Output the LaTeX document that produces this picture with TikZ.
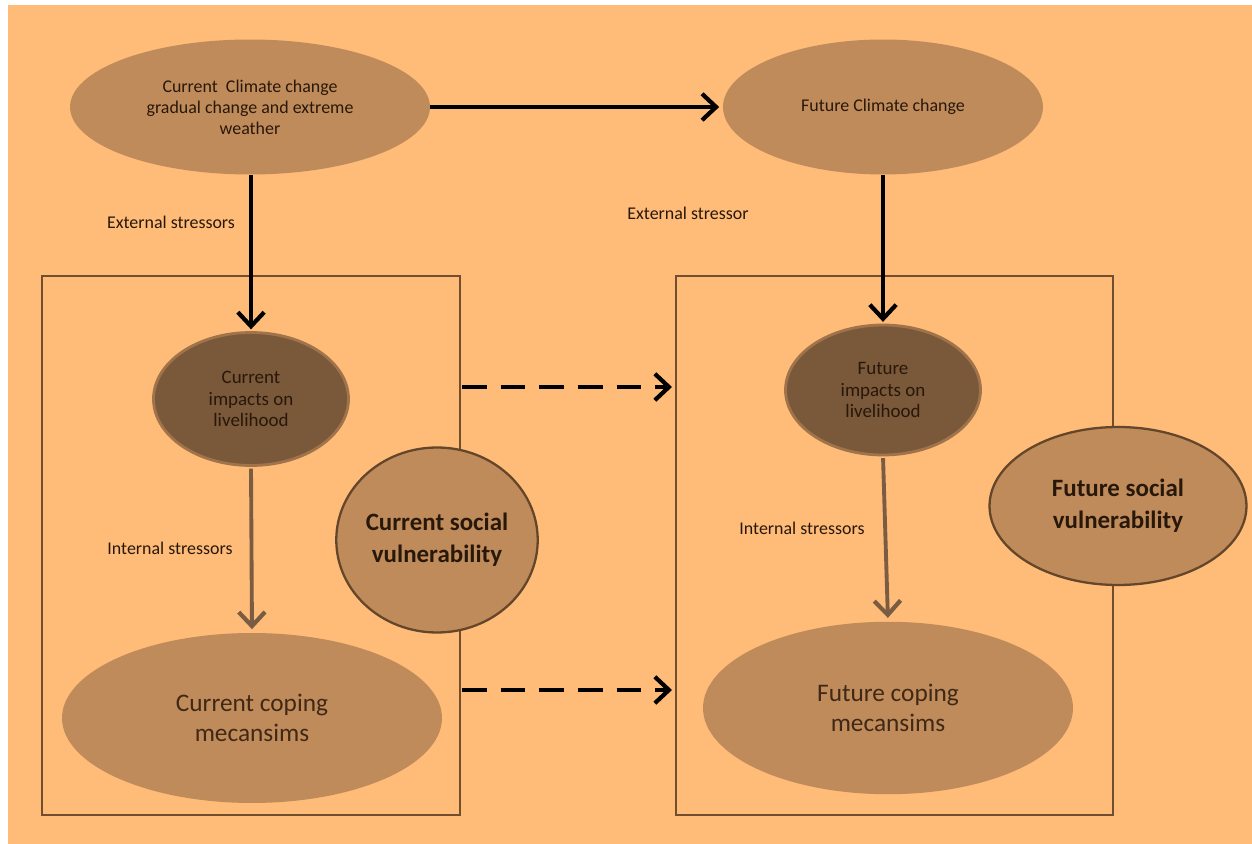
\documentclass[tikz,border=0pt]{standalone}
\usepackage{fontspec}
\setmainfont{Carlito}
\usetikzlibrary{shapes.geometric,arrows.meta}
\definecolor{bgor}{RGB}{255,187,120}
\definecolor{elfill}{RGB}{192,139,91}
\definecolor{darkfill}{RGB}{122,88,58}
\definecolor{darkedge}{RGB}{160,115,75}
\definecolor{boxedge}{RGB}{112,78,46}
\definecolor{svedge}{RGB}{100,70,42}
\definecolor{intarrow}{RGB}{122,92,66}
\definecolor{txt}{RGB}{40,24,10}
\tikzset{
  ell/.style={ellipse, fill=elfill, inner sep=0pt, text=txt, align=center, font=\fontsize{10.2}{12}\selectfont},
  darkell/.style={ellipse, fill=darkfill, draw=darkedge, line width=1.6pt, inner sep=0pt, text=txt, align=center, font=\fontsize{10.8}{12.2}\selectfont},
  svell/.style={ellipse, fill=elfill, draw=svedge, line width=1.3pt, inner sep=0pt, text=txt, align=center, font=\fontsize{14.2}{18}\selectfont\bfseries},
  copell/.style={ellipse, fill=elfill, inner sep=0pt, text=txt!85!elfill, align=center, font=\fontsize{14.4}{17}\selectfont},
  framebox/.style={draw=boxedge, line width=1.2pt, minimum height=10.78cm, inner sep=0pt},
  blackarrow/.style={draw=black, line width=2.2pt, -{Straight Barb[length=8pt,width=15pt,line width=2.4pt]}},
  grayarrow/.style={draw=intarrow, line width=2.2pt, -{Straight Barb[length=8pt,width=15pt,line width=2.4pt]}},
  dasharrow/.style={draw=black, line width=2.4pt, dash pattern=on 14pt off 8pt, -{Straight Barb[length=8pt,width=15pt,line width=2.4pt]}},
  lbl/.style={text=txt, font=\fontsize{10.2}{12}\selectfont},
}
\begin{document}
\begin{tikzpicture}[x=0.02cm,y=-0.02cm]
\useasboundingbox (0,0) rectangle (1252,844);
\fill[white] (0,0) rectangle (1252,844);
\fill[bgor] (8,5) rectangle (1252,844);

% frames
\node[framebox, minimum width=8.36cm] (lbox) at (251,545.5) {};
\node[framebox, minimum width=8.74cm] (rbox) at (894.5,545.5) {};

% ellipses
\node[ell, minimum width=7.2cm, minimum height=2.7cm] (e1) at (250,107)
  {Current\ \ Climate change\\gradual change and extreme\\weather};
\node[ell, minimum width=6.4cm, minimum height=2.7cm] (e2) at (883,107)
  {Future Climate change};
\node[darkell, minimum width=3.9cm, minimum height=2.66cm] (ci) at (251,399)
  {Current\\impacts on\\livelihood};
\node[darkell, minimum width=3.9cm, minimum height=2.6cm] (fi) at (883,390)
  {Future\\impacts on\\livelihood};
\node[svell, minimum width=4.0cm, minimum height=3.7cm] (cs) at (437,540)
  {Current social\\vulnerability};
\node[svell, minimum width=5.14cm, minimum height=3.16cm] (fs) at (1118,506)
  {Future social\\vulnerability};
\node[copell, minimum width=7.6cm, minimum height=3.4cm] (cc) at (252,718)
  {Current coping\\mecansims};
\node[copell, minimum width=7.4cm, minimum height=3.45cm] (fc) at (888,708)
  {Future coping\\mecansims};

% labels
\node[lbl] (l1) at (171,222) {External stressors};
\node[lbl] (l2) at (688,213) {External stressor};
\node[lbl] (l3) at (170,548) {Internal stressors};
\node[lbl] (l4) at (802,528) {Internal stressors};

% connectors
\draw[blackarrow, shorten >=2pt] (e1.east) -- (e2.west);
\draw[blackarrow, shorten >=1pt] (e1.south -| ci.north) -- (ci.north);
\draw[blackarrow, shorten >=1pt] (e2.south) -- (fi.north);
\draw[grayarrow, shorten <=1pt, shorten >=2pt] (ci.south) -- (cc.north);
\draw[grayarrow, shorten <=1pt, shorten >=2pt] (fi.south) -- (fc.north);

\coordinate (d1s) at (462,387);
\coordinate (d1e) at (672,387);
\coordinate (d2s) at (462,690);
\coordinate (d2e) at (672,690);
\draw[dasharrow] (d1s) -- (d1e);
\draw[dasharrow] (d2s) -- (d2e);
\end{tikzpicture}
\end{document}
